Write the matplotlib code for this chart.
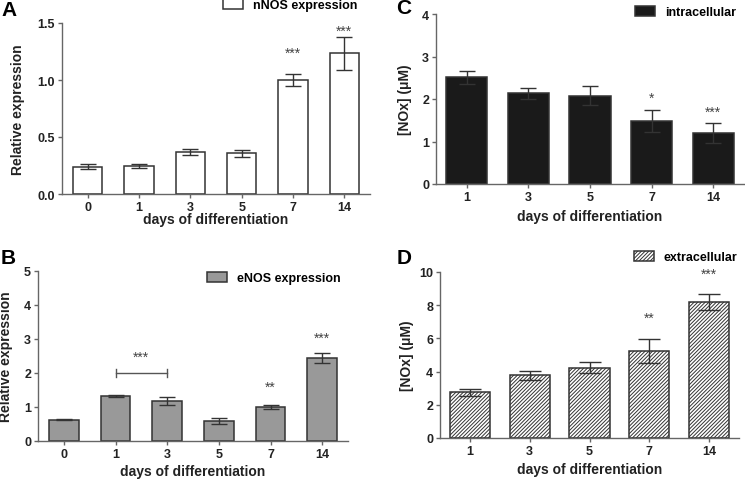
import matplotlib
matplotlib.use("Agg")
import matplotlib.pyplot as plt
import numpy as np

plt.rcParams['font.family'] = ['Liberation Sans', 'DejaVu Sans']
plt.rcParams['hatch.linewidth'] = 0.7

W, H = 745, 481

# panel A - nNOS
days_a = ['0', '1', '3', '5', '7', '14']
nnos = [0.24, 0.243, 0.371, 0.357, 1.0, 1.234]
nnos_err = [0.02, 0.018, 0.026, 0.033, 0.05, 0.146]
nnos_stars = ['', '', '', '', '***', '***']
nnos_star_y = [0, 0, 0, 0, 1.24, 1.43]

# panel B - eNOS
enos = [0.63, 1.33, 1.18, 0.585, 1.0, 2.44]
enos_err = [0.02, 0.03, 0.11, 0.09, 0.07, 0.14]
enos_stars = ['', '', '', '', '**', '***']
enos_star_y = [0, 0, 0, 0, 1.59, 3.05]

# panel C - intracellular NOx
days_c = ['1', '3', '5', '7', '14']
intra = [2.51, 2.13, 2.08, 1.48, 1.20]
intra_err = [0.16, 0.14, 0.22, 0.26, 0.23]
intra_stars = ['', '', '', '*', '***']
intra_star_y = [0, 0, 0, 2.02, 1.70]

# panel D - extracellular NOx
extra = [2.75, 3.78, 4.22, 5.25, 8.18]
extra_err = [0.2, 0.28, 0.33, 0.71, 0.47]
extra_stars = ['', '', '', '**', '***']
extra_star_y = [0, 0, 0, 7.23, 9.9]

fig = plt.figure(figsize=(W / 100, H / 100), dpi=100)


def box(l, r, t, b):
    # pixel box -> figure fraction
    return [l / W, 1 - b / H, (r - l) / W, (b - t) / H]


def fx(px):
    return px / W


def fy(py):
    return 1 - py / H


def panel(rect, labels, vals, errs, fc, hatch, ylim, yticks, yfmt, width,
          ylabel, legend, leg_xy, letter, letter_xy, ylab_x, xlab_y, capsize,
          stars, star_y):
    l, r, t, b = rect
    ax = fig.add_axes(box(*rect))
    x = np.arange(len(vals))
    ax.bar(x, vals, width=width, color=fc, edgecolor='#333333', linewidth=1.1,
           hatch=hatch, label=legend, zorder=2)
    ax.errorbar(x, vals, yerr=errs, fmt='none', ecolor='#333333', elinewidth=1.0,
                capsize=capsize, capthick=1.0, zorder=3)
    for xi, s, sy in zip(x, stars, star_y):
        if s:
            ax.text(xi, sy, s, ha='center', va='center', fontsize=10,
                    color='#444444')
    ax.set_xlim(-0.5, len(vals) - 0.5)
    ax.set_ylim(*ylim)
    ax.set_yticks(yticks)
    ax.set_yticklabels([yfmt.format(v) for v in yticks])
    ax.set_xticks(x)
    ax.set_xticklabels(labels)
    for side in ['top', 'right']:
        ax.spines[side].set_visible(False)
    for side in ['left', 'bottom']:
        ax.spines[side].set_color('#666666')
        ax.spines[side].set_linewidth(1.0)
    ax.tick_params(direction='out', length=3, width=1.0, color='#666666',
                   labelsize=9, pad=2)
    for tl in ax.get_xticklabels() + ax.get_yticklabels():
        tl.set_fontweight('bold')
        tl.set_color('#222222')
    ax.set_ylabel(ylabel, fontsize=10, fontweight='bold', color='#222222',
                  va='center')
    ax.yaxis.set_label_coords(fx(ylab_x), fy((t + b) / 2),
                              transform=fig.transFigure)
    ax.set_xlabel('days of differentiation', fontsize=10, fontweight='bold',
                  color='#222222', va='center')
    ax.xaxis.set_label_coords(fx((l + r) / 2), fy(xlab_y),
                              transform=fig.transFigure)
    ax.legend(loc='center left', bbox_to_anchor=(fx(leg_xy[0]), fy(leg_xy[1])),
              bbox_transform=fig.transFigure, frameon=False, borderpad=0,
              borderaxespad=0, handlelength=1.6, handleheight=0.8,
              handletextpad=0.8, prop={'weight': 'bold', 'size': 9})
    fig.text(fx(letter_xy[0]), fy(letter_xy[1]), letter, fontsize=15,
             fontweight='bold', ha='center', va='center')
    return ax


panel((62, 370, 24, 195), days_a, nnos, nnos_err, 'white', None,
      (0, 1.5), [0, 0.5, 1.0, 1.5], '{:.1f}', 0.57, 'Relative expression',
      'nNOS expression', (223, 6), 'A', (9, 11), 18, 220, 6,
      nnos_stars, nnos_star_y)

ax_b = panel((38, 348, 272, 442), days_a, enos, enos_err, '#999999', None,
             (0, 5), [0, 1, 2, 3, 4, 5], '{:.0f}', 0.57, 'Relative expression',
             'eNOS expression', (207, 279), 'B', (8, 258), 6, 472, 6,
             enos_stars, enos_star_y)
# bracket between day 1 and day 3
ax_b.plot([1, 2], [2.01, 2.01], color='#555555', lw=1.0)
ax_b.plot([1, 1], [1.89, 2.13], color='#555555', lw=1.0)
ax_b.plot([2, 2], [1.89, 2.13], color='#555555', lw=1.0)
ax_b.text(1.5, 2.47, '***', ha='center', va='center', fontsize=10, color='#444444')

panel((436, 744, 15, 185), days_c, intra, intra_err, '#1a1a1a', None,
      (0, 4), [0, 1, 2, 3, 4], '{:.0f}', 0.67, '[NOx] (\u03bcM)',
      'intracellular', (635, 13), 'C', (404, 9), 405, 217, 5.5,
      intra_stars, intra_star_y)

panel((440, 739, 273, 439), days_c, extra, extra_err, 'white', '/////////',
      (0, 10), [0, 2, 4, 6, 8, 10], '{:.0f}', 0.67, '[NOx] (\u03bcM)',
      'extracellular', (634, 258), 'D', (404, 258), 407, 470, 8,
      extra_stars, extra_star_y)

fig.savefig('out.png', dpi=100)
